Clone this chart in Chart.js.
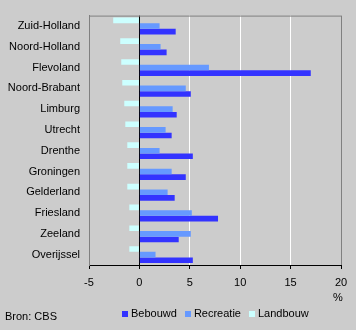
<!DOCTYPE html>
<html><head><meta charset="utf-8">
<script src="https://cdn.jsdelivr.net/npm/chart.js@4/dist/chart.umd.min.js"></script>
<style>
html,body{margin:0;padding:0;background:#cccccc;}
#wrap{position:relative;width:356px;height:330px;background:#cccccc;font-family:"Liberation Sans",Arial,sans-serif;}
canvas{position:absolute;left:0;top:0;}
.t{position:absolute;font-size:11px;color:#000;line-height:1;}
#legend{position:absolute;left:122px;top:308px;display:flex;align-items:center;font-size:11px;line-height:11px;color:#000;white-space:nowrap;}
#legend .it{display:flex;align-items:center;margin-right:8px;}
#legend .bx{width:6px;height:6px;margin-right:3px;margin-top:1px;}
</style></head>
<body><div id="wrap"><canvas id="c" width="356" height="330"></canvas>
<div class="t" style="left:333px;top:292px;">%</div>
<div class="t" style="left:5px;top:311px;">Bron: CBS</div>
<div id="legend"></div>
</div>
<script>
const categories = ["Zuid-Holland","Noord-Holland","Flevoland","Noord-Brabant","Limburg","Utrecht","Drenthe","Groningen","Gelderland","Friesland","Zeeland","Overijssel"];
const bebouwd   = [3.6, 2.7, 17.0, 5.1, 3.7, 3.2, 5.3, 4.6, 3.5, 7.8, 3.9, 5.3];
const recreatie = [2.0, 2.1, 6.9, 4.6, 3.3, 2.6, 2.0, 3.2, 2.8, 5.2, 5.1, 1.6];
const landbouw  = [-2.6, -1.9, -1.8, -1.7, -1.5, -1.4, -1.2, -1.2, -1.2, -1.0, -1.0, -1.0];
const xTicks = [-5, 0, 5, 10, 15, 20];

const topBorder = {
  id:'topBorder',
  beforeDatasetsDraw(chart){
    const {ctx, chartArea:a} = chart;
    ctx.save(); ctx.strokeStyle='#808080'; ctx.lineWidth=1;
    ctx.beginPath(); ctx.moveTo(a.left, a.top+0.5); ctx.lineTo(a.right, a.top+0.5); ctx.stroke();
    ctx.restore();
  }
};

const chart = new Chart(document.getElementById('c'), {
  type:'bar',
  data:{
    labels: categories,
    datasets:[
      {label:'Landbouw', data: landbouw, backgroundColor:'#ccffff'},
      {label:'Recreatie', data: recreatie, backgroundColor:'#6699ff'},
      {label:'Bebouwd', data: bebouwd, backgroundColor:'#3333ff'}
    ]
  },
  options:{
    responsive:false, animation:false, indexAxis:'y',
    datasets:{bar:{categoryPercentage:0.81, barPercentage:1.0, borderWidth:0}},
    layout:{padding:{top:13, right:15, left:0, bottom:40}},
    plugins:{
      legend:{display:false},
      tooltip:{enabled:false}
    },
    scales:{
      x:{min:-5, max:20,
        afterBuildTicks(s){ s.ticks = xTicks.map(v=>({value:v})); },
        afterFit(s){ s.height = 25; },
        ticks:{color:'#000', padding:7, font:{family:'"Liberation Sans", Arial, sans-serif', size:11}},
        grid:{
          color(ctx){ const v=ctx.tick&&ctx.tick.value; if(v===0) return '#000'; if(v===-5||v===20) return '#808080'; return '#ffffff'; },
          tickColor:'#000', tickLength:4
        },
        border:{color:'#000'}
      },
      y:{
        afterFit(s){ s.width = 89; },
        ticks:{color:'#000', padding:9, font:{family:'"Liberation Sans", Arial, sans-serif', size:11}},
        grid:{display:false, drawTicks:false},
        border:{color:'#808080'}
      }
    }
  },
  plugins:[topBorder]
});

const lg = document.getElementById('legend');
chart.data.datasets.slice().reverse().forEach(ds=>{
  const it=document.createElement('div'); it.className='it';
  const b=document.createElement('div'); b.className='bx'; b.style.background=ds.backgroundColor;
  const s=document.createElement('span'); s.textContent=ds.label;
  it.appendChild(b); it.appendChild(s); lg.appendChild(it);
});
</script></body></html>
